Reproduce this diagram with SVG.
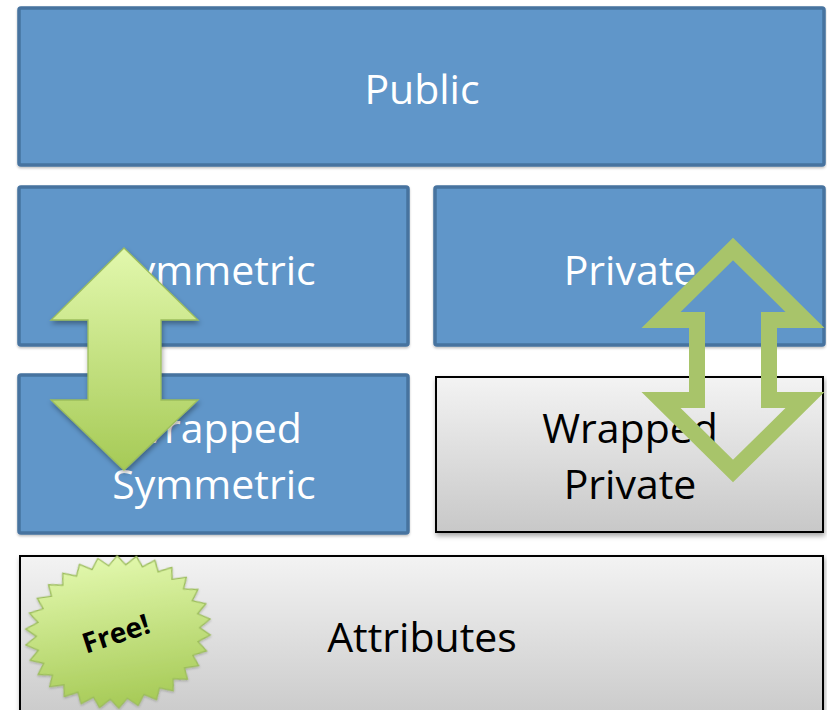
<svg xmlns="http://www.w3.org/2000/svg" width="827" height="710" viewBox="0 0 827 710">
<defs>
<linearGradient id="gray" x1="0" y1="0" x2="0" y2="1">
<stop offset="0" stop-color="#f3f3f3"/><stop offset="1" stop-color="#c8c8c8"/>
</linearGradient>
<linearGradient id="green" x1="0" y1="0" x2="0" y2="1">
<stop offset="0" stop-color="#e2f8ad"/><stop offset="1" stop-color="#a6ca56"/>
</linearGradient>
<filter id="sh" x="-10%" y="-10%" width="130%" height="130%">
<feDropShadow dx="1" dy="3" stdDeviation="2.5" flood-color="#000" flood-opacity="0.35"/>
</filter>
<filter id="shs" x="-10%" y="-10%" width="130%" height="130%">
<feDropShadow dx="0" dy="1.5" stdDeviation="1.2" flood-color="#000" flood-opacity="0.25"/>
</filter>
</defs>
<style>
.blue{fill:#6096c9;stroke:#46739f;stroke-width:3.5}
.grayb{fill:url(#gray);stroke:#000;stroke-width:2}
.wt{font-family:"Open Sans",Lato,"Liberation Sans",sans-serif;font-size:41px;fill:#fff;text-anchor:middle}
.bt{font-family:"Open Sans",Lato,"Liberation Sans",sans-serif;font-size:41px;fill:#000;text-anchor:middle}
</style>
<rect width="827" height="710" fill="#fff"/>
<g id="public">
<rect class="blue" x="19" y="8" width="805" height="157" rx="2" filter="url(#shs)"/>
<text class="wt" x="422" y="104">Public</text>
</g>
<g id="symmetric">
<rect class="blue" x="19" y="187" width="389" height="158" rx="2" filter="url(#shs)"/>
<text class="wt" x="214" y="285">Symmetric</text>
</g>
<g id="private">
<rect class="blue" x="435" y="187" width="389" height="158" rx="2" filter="url(#shs)"/>
<text class="wt" x="630" y="285">Private</text>
</g>
<g id="wrapped-symmetric">
<rect class="blue" x="19" y="375" width="389" height="158" rx="2" filter="url(#shs)"/>
<text class="wt" x="214" y="443">Wrapped</text>
<text class="wt" x="214" y="499">Symmetric</text>
</g>
<g id="wrapped-private">
<rect class="grayb" x="436" y="377" width="387" height="155" filter="url(#sh)"/>
<text class="bt" x="630" y="443">Wrapped</text>
<text class="bt" x="630" y="499">Private</text>
</g>
<g id="attributes">
<rect class="grayb" x="20" y="556" width="803" height="170" filter="url(#sh)"/>
<text class="bt" x="422" y="652">Attributes</text>
</g>
<g id="free">
<polygon transform="translate(118,632) rotate(-8) scale(0.93,0.76)" fill="url(#green)" stroke="#9cbd5c" stroke-width="1.3" vector-effect="non-scaling-stroke" filter="url(#shs)" points="100,0 87.5,9.2 97.8,20.8 83.7,27.2 91.4,40.7 76.2,44 80.9,58.8 65.4,58.9 66.9,74.3 51.7,71.2 50,86.6 35.8,80.4 30.9,95.1 18.3,86.1 10.5,99.5 0,88 -10.5,99.5 -18.3,86.1 -30.9,95.1 -35.8,80.4 -50,86.6 -51.7,71.2 -66.9,74.3 -65.4,58.9 -80.9,58.8 -76.2,44 -91.4,40.7 -83.7,27.2 -97.8,20.8 -87.5,9.2 -100,0 -87.5,-9.2 -97.8,-20.8 -83.7,-27.2 -91.4,-40.7 -76.2,-44 -80.9,-58.8 -65.4,-58.9 -66.9,-74.3 -51.7,-71.2 -50,-86.6 -35.8,-80.4 -30.9,-95.1 -18.3,-86.1 -10.5,-99.5 0,-88 10.5,-99.5 18.3,-86.1 30.9,-95.1 35.8,-80.4 50,-86.6 51.7,-71.2 66.9,-74.3 65.4,-58.9 80.9,-58.8 76.2,-44 91.4,-40.7 83.7,-27.2 97.8,-20.8 87.5,-9.2"/>
<text transform="translate(119,643) rotate(-18)" font-family="'Open Sans',Lato,'Liberation Sans',sans-serif" font-weight="bold" font-size="28" fill="#000" text-anchor="middle">Free!</text>
</g>
<g id="connectors">
<path d="M124,248 L198,320 L161,320 L161,400 L198,400 L124,470 L51,400 L88,400 L88,320 L51,320 Z" fill="url(#green)" stroke="#9cbd5c" stroke-width="1.3" filter="url(#sh)"/>
<path d="M733,249 L805,320 L769,320 L769,400 L805,400 L733,471 L661,400 L697,400 L697,320 L661,320 Z" fill="none" stroke="#a8c46a" stroke-width="16"/>
</g>
</svg>
